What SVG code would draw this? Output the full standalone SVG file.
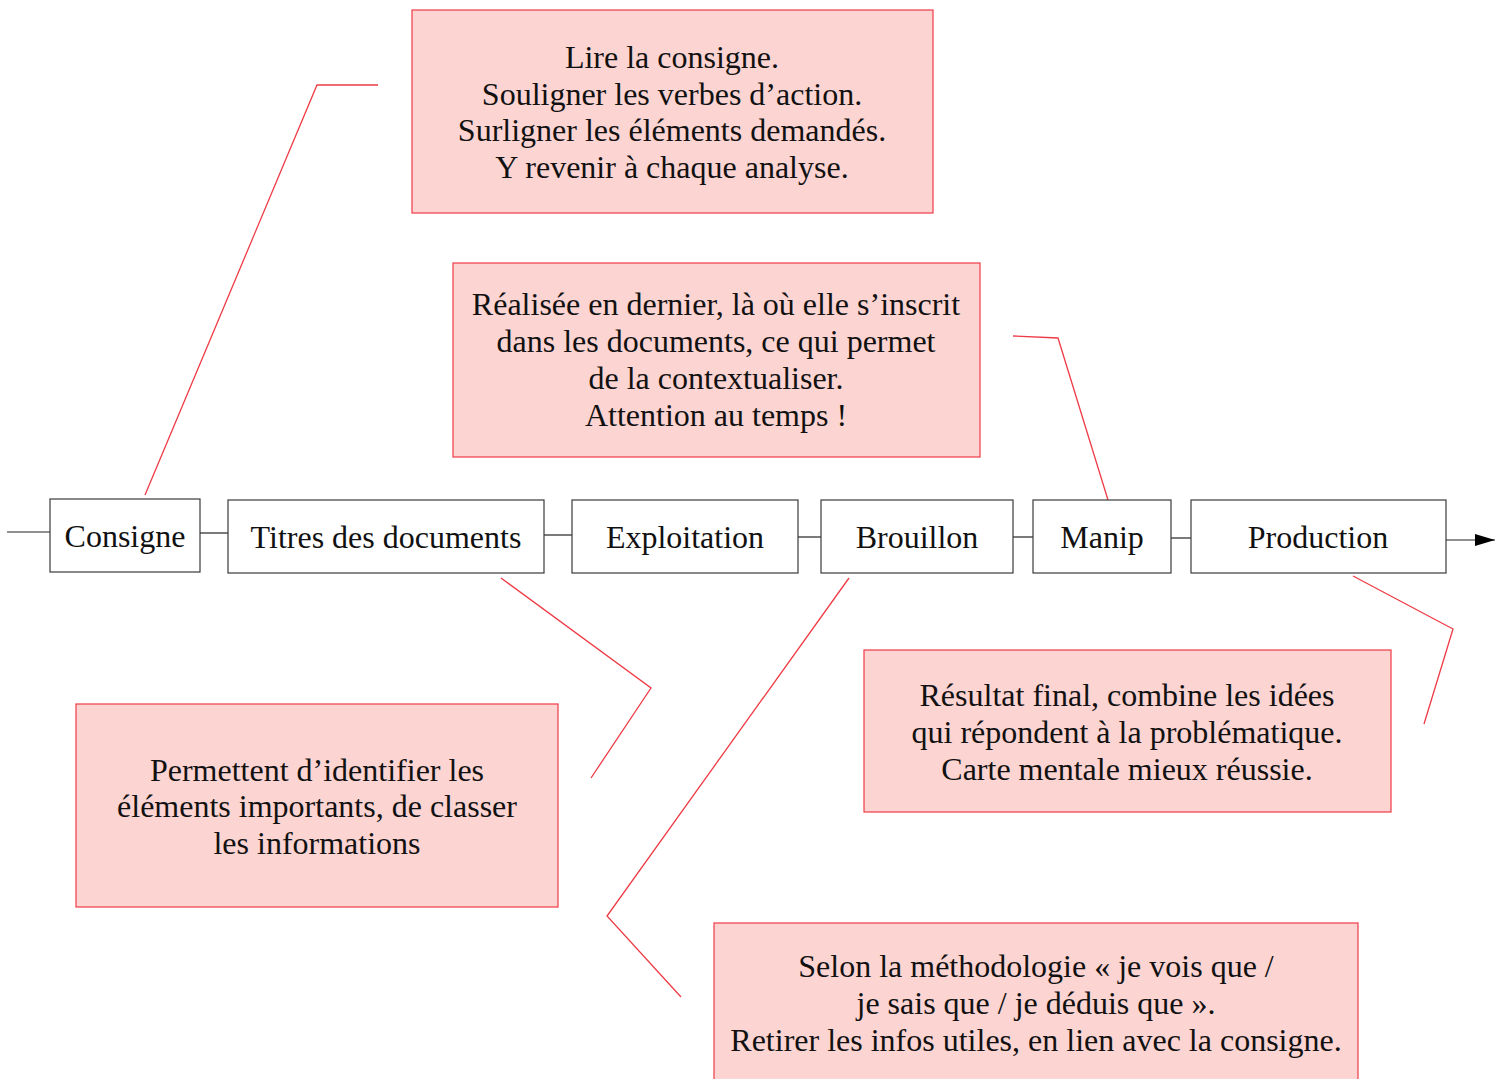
<svg xmlns="http://www.w3.org/2000/svg" width="1503" height="1079" viewBox="0 0 1503 1079">
<style>
.node rect{fill:#fff;stroke:#3a3a3a;stroke-width:1.2}
.note rect{fill:#fcd4d2;stroke:#ee3b45;stroke-width:1.2}
text{font-family:"Liberation Serif","Times New Roman",serif;font-size:32px;fill:#111;text-anchor:middle}
.conn line{stroke:#222;stroke-width:1.2}
.lead polyline{fill:none;stroke:#ee3b45;stroke-width:1.3}
</style>
<defs>
<marker id="arr" markerWidth="20" markerHeight="12" refX="20" refY="6" orient="auto" markerUnits="userSpaceOnUse">
<path d="M0,0 L20,6 L0,12 Z" fill="#000"/>
</marker>
</defs>
<g id="connectors" class="conn">
<line x1="7" y1="532" x2="50" y2="532"/>
<line x1="200" y1="533" x2="228" y2="533"/>
<line x1="544" y1="535" x2="572" y2="535"/>
<line x1="798" y1="537" x2="821" y2="537"/>
<line x1="1013" y1="537" x2="1033" y2="537"/>
<line x1="1171" y1="538" x2="1191" y2="538"/>
<line x1="1446" y1="540" x2="1495" y2="540" marker-end="url(#arr)"/>
</g>
<g id="leaders" class="lead">
<polyline points="145,495 317,85 378,85"/>
<polyline points="1013,336 1058,338 1108,500"/>
<polyline points="501,578 651,688 591,778"/>
<polyline points="1353,576 1453,629 1424,724"/>
<polyline points="849,578 607,916 681,997"/>
</g>
<g id="n-consigne" class="node"><rect x="50" y="499" width="150" height="73"/><text x="125" y="547">Consigne</text></g>
<g id="n-titres" class="node"><rect x="228" y="500" width="316" height="73"/><text x="386" y="548">Titres des documents</text></g>
<g id="n-exploitation" class="node"><rect x="572" y="500" width="226" height="73"/><text x="685" y="548">Exploitation</text></g>
<g id="n-brouillon" class="node"><rect x="821" y="500" width="192" height="73"/><text x="917" y="548">Brouillon</text></g>
<g id="n-manip" class="node"><rect x="1033" y="500" width="138" height="73"/><text x="1102" y="548">Manip</text></g>
<g id="n-production" class="node"><rect x="1191" y="500" width="255" height="73"/><text x="1318" y="548">Production</text></g>
<g id="note-consigne" class="note"><rect x="412" y="10" width="521" height="203"/>
<text x="672" y="68">Lire la consigne.</text>
<text x="672" y="105">Souligner les verbes d’action.</text>
<text x="672" y="141">Surligner les éléments demandés.</text>
<text x="672" y="178">Y revenir à chaque analyse.</text></g>
<g id="note-manip" class="note"><rect x="453" y="263" width="527" height="194"/>
<text x="716" y="315">Réalisée en dernier, là où elle s’inscrit</text>
<text x="716" y="352">dans les documents, ce qui permet</text>
<text x="716" y="389">de la contextualiser.</text>
<text x="716" y="426">Attention au temps !</text></g>
<g id="note-titres" class="note"><rect x="76" y="704" width="482" height="203"/>
<text x="317" y="781">Permettent d’identifier les</text>
<text x="317" y="817">éléments importants, de classer</text>
<text x="317" y="854">les informations</text></g>
<g id="note-production" class="note"><rect x="864" y="650" width="527" height="162"/>
<text x="1127" y="706">Résultat final, combine les idées</text>
<text x="1127" y="743">qui répondent à la problématique.</text>
<text x="1127" y="780">Carte mentale mieux réussie.</text></g>
<g id="note-brouillon" class="note"><rect x="714" y="923" width="644" height="170"/>
<text x="1036" y="977">Selon la méthodologie « je vois que /</text>
<text x="1036" y="1014">je sais que / je déduis que ».</text>
<text x="1036" y="1051">Retirer les infos utiles, en lien avec la consigne.</text></g>
</svg>
